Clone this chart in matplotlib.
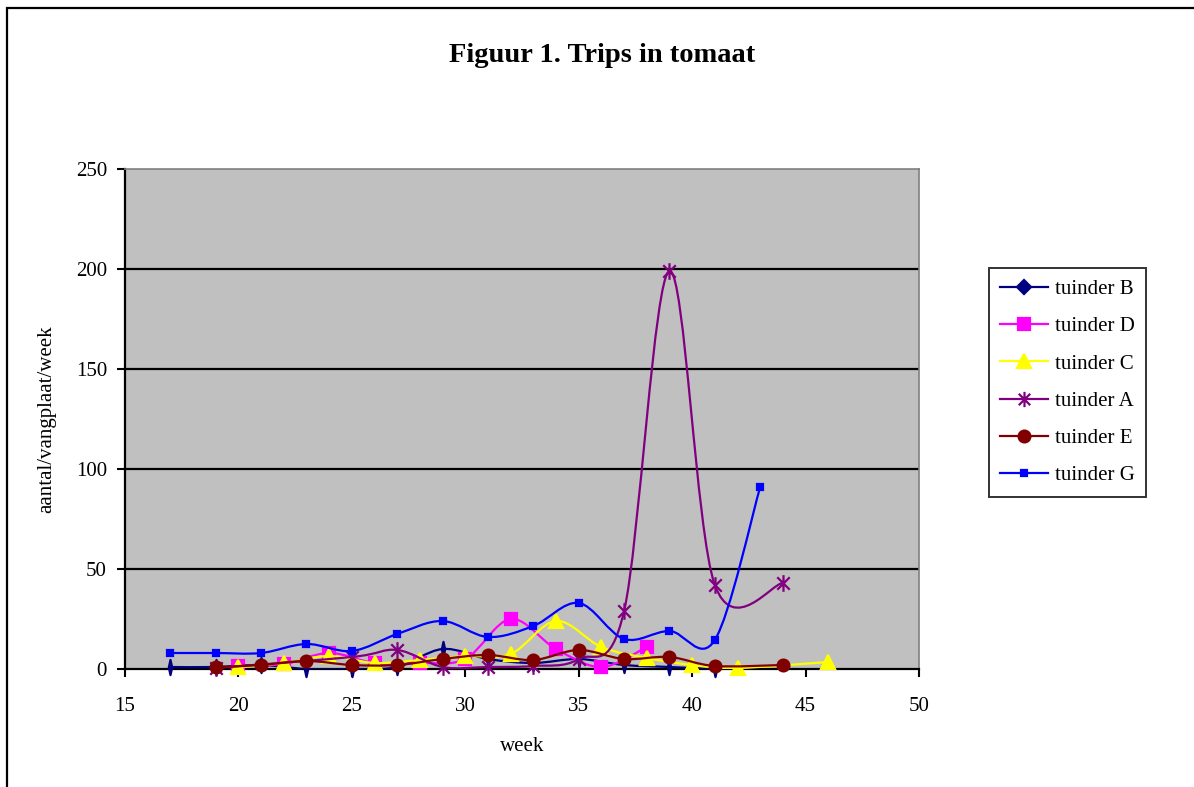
import numpy as np
import matplotlib
matplotlib.use("Agg")
import matplotlib.pyplot as plt
from matplotlib.path import Path
from matplotlib.patches import PathPatch, Rectangle
from matplotlib.lines import Line2D

# ---------------- data ----------------
weeks_B = [17, 19, 21, 23, 25, 27, 29, 31, 33, 35, 37, 39, 41]
vals_B = [1, 1, 2, 0, 0, 1, 10, 5, 3, 5, 2, 1, 0]

weeks_D = [20, 22, 24, 26, 28, 30, 32, 34, 36, 38]
vals_D = [1.5, 2.5, 8, 3, 3, 5, 25, 10, 1, 11]

weeks_C = [20, 22, 24, 26, 28, 30, 32, 34, 36, 38, 40, 42, 46]
vals_C = [1, 3, 6.5, 3, 4.5, 6.5, 7.5, 24, 11, 5.5, 2, 0.5, 3.5]

weeks_A = [19, 25, 27, 29, 31, 33, 35, 37, 39, 41, 44]
vals_A = [0.5, 6, 9.5, 1, 1, 1.5, 5, 29, 199, 42, 43]

weeks_E = [19, 21, 23, 25, 27, 29, 31, 33, 35, 37, 39, 41, 44]
vals_E = [1, 2, 4, 2, 2, 5, 7, 4.5, 9.5, 5, 6, 1.5, 2]

weeks_G = [17, 19, 21, 23, 25, 27, 29, 31, 33, 35, 37, 39, 41, 43]
vals_G = [8, 8, 8, 12.5, 9, 17.5, 24, 16, 21.5, 33, 15, 19, 14.5, 91]

labels = ["tuinder B", "tuinder D", "tuinder C", "tuinder A", "tuinder E", "tuinder G"]
x_ticks = [15, 20, 25, 30, 35, 40, 45, 50]
y_ticks = [0, 50, 100, 150, 200, 250]

# ---------------- styles ----------------
thin_diamond = Path([(0, 1), (0.22, 0), (0, -1), (-0.22, 0), (0, 1)],
                    [Path.MOVETO, Path.LINETO, Path.LINETO, Path.LINETO, Path.CLOSEPOLY])
asterisk = Path([(0, -1), (0, 1), (-0.75, -0.75), (0.75, 0.75), (-0.75, 0.75), (0.75, -0.75)],
                [Path.MOVETO, Path.LINETO, Path.MOVETO, Path.LINETO, Path.MOVETO, Path.LINETO])

series = [
    (weeks_B, vals_B, "#000080", thin_diamond, 11, "D", 7),
    (weeks_D, vals_D, "#FF00FF", "s", 9, "s", 9),
    (weeks_C, vals_C, "#FFFF00", "^", 10, "^", 10),
    (weeks_A, vals_A, "#800080", asterisk, 12, asterisk, 11),
    (weeks_E, vals_E, "#800000", "o", 8.5, "o", 8.5),
    (weeks_G, vals_G, "#0000FF", "s", 5, "s", 5),
]


def smooth_path(x, y):
    pts = np.column_stack([np.asarray(x, float), np.asarray(y, float)])
    n = len(pts)
    verts = [pts[0]]
    codes = [Path.MOVETO]
    for i in range(n - 1):
        p0 = pts[i - 1] if i > 0 else pts[i]
        p1 = pts[i]
        p2 = pts[i + 1]
        p3 = pts[i + 2] if i + 2 < n else pts[i + 1]
        c1 = p1 + (p2 - p0) / 6.0
        c2 = p2 - (p3 - p1) / 6.0
        verts += [c1, c2, p2]
        codes += [Path.CURVE4] * 3
    return Path(verts, codes)


plt.rcParams['font.family'] = ['Liberation Serif', 'DejaVu Serif']

W, H = 1194, 787
fig = plt.figure(figsize=(W / 100, H / 100), dpi=100)
fig.patch.set_facecolor("white")

left, right, top, bottom = 125, 919, 169, 669
ax = fig.add_axes([left / W, 1 - bottom / H, (right - left) / W, (bottom - top) / H])
ax.set_facecolor("#C0C0C0")
ax.set_xlim(15, 50)
ax.set_ylim(0, 250)
ax.set_xticks(x_ticks)
ax.set_yticks(y_ticks)
ax.tick_params(axis="both", direction="out", length=6, width=1.5, labelsize=15, color="black")
ax.tick_params(axis="x", pad=14)
ax.tick_params(axis="y", pad=7)
for yv in y_ticks[1:-1]:
    ax.axhline(yv, color="black", lw=1.6, zorder=1)
ax.spines["left"].set_linewidth(1.6)
ax.spines["bottom"].set_linewidth(1.6)
ax.spines["top"].set_color("#808080")
ax.spines["right"].set_color("#808080")
ax.spines["top"].set_linewidth(1.2)
ax.spines["right"].set_linewidth(1.2)

handles = []
z = 3
for (wx, vy, col, mk, ms, lmk, lms), lab in zip(series, labels):
    patch = PathPatch(smooth_path(wx, vy), facecolor="none", edgecolor=col, lw=1.6, zorder=z)
    ax.add_patch(patch)
    ax.plot(wx, vy, ls="none", marker=mk, markersize=ms, color=col,
            markerfacecolor=col, markeredgecolor=col, markeredgewidth=1.6, zorder=z + 0.5,
            clip_on=False)
    handles.append(Line2D([], [], color=col, lw=1.6, marker=lmk, markersize=lms,
                          markerfacecolor=col, markeredgecolor=col, markeredgewidth=1.6))
    z += 1

ax.set_xlabel("week", fontsize=15, labelpad=15)
ax.set_ylabel("aantal/vangplaat/week", fontsize=15, labelpad=14)

fig.text(602 / W, 1 - 56 / H, "Figuur 1. Trips in tomaat", fontsize=20.5,
         fontweight="bold", ha="center", va="center")

leg = fig.legend(handles, labels, loc="upper left", bbox_to_anchor=(989 / W, 1 - 268 / H),
                 fontsize=15, frameon=True, fancybox=False, shadow=False,
                 handlelength=2.3, handletextpad=0.3, labelspacing=0.85,
                 borderpad=0.55, borderaxespad=0)
leg.get_frame().set_edgecolor("black")
leg.get_frame().set_linewidth(1.4)

fig.patches.append(Rectangle((7 / W, -0.2), 2, 1.2 - 8 / H, transform=fig.transFigure,
                             fill=False, edgecolor="black", lw=1.6))

fig.savefig("out.png", dpi=100)
